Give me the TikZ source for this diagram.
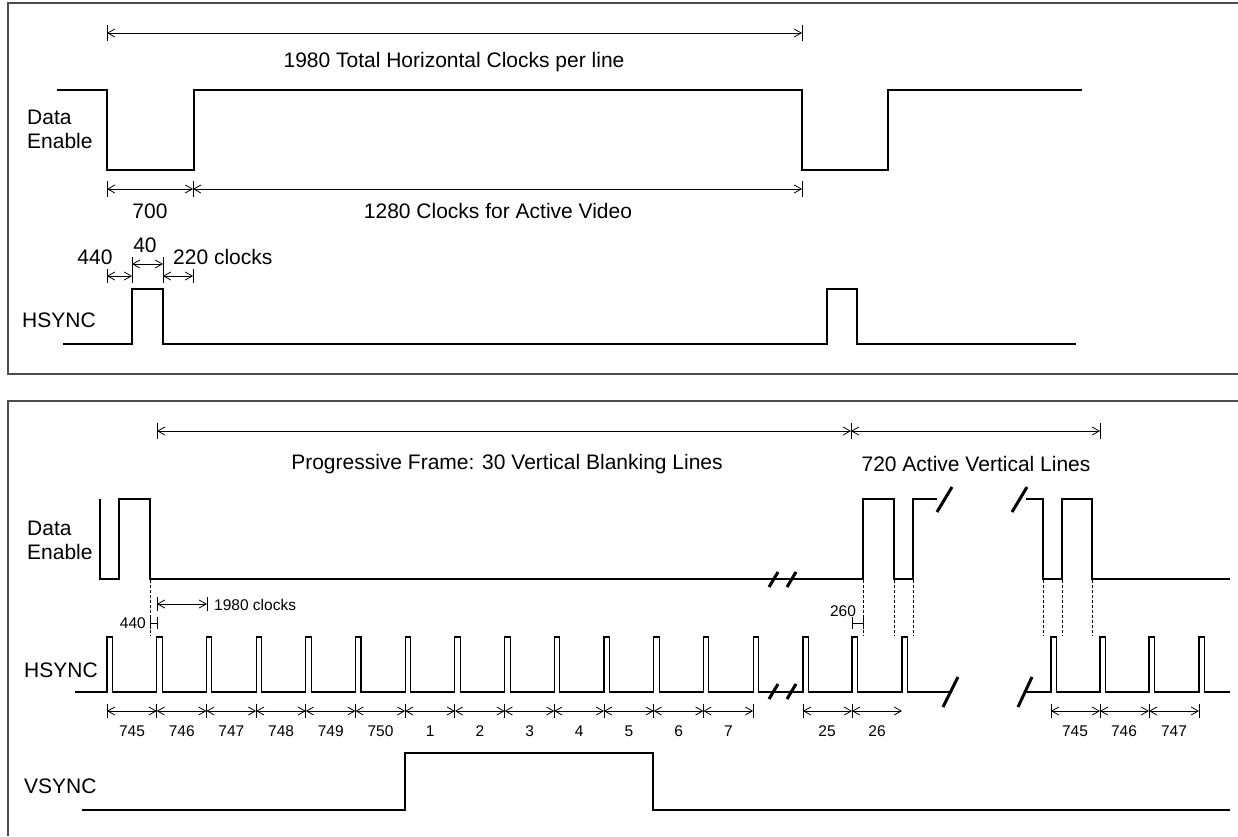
\documentclass[tikz,border=0pt]{standalone}
\usepackage{fontspec}
\setmainfont{Liberation Sans}
\usetikzlibrary{arrows.meta}
\begin{document}
\begin{tikzpicture}[x=1pt,y=-1pt,
  sigline/.style={line width=1.1pt, line join=miter},
  panel/.style={line width=1.4pt, draw=black!70},
  dimarr/.style={line width=0.8pt, {Straight Barb[length=7pt,width=8pt,line width=0.8pt]}-{Straight Barb[length=7pt,width=8pt,line width=0.8pt]}},
  tickbar/.style={line width=0.9pt},
  brkmark/.style={line width=3pt},
  dotv/.style={line width=0.8pt, dash pattern=on 3pt off 2pt},
  lab/.style={inner sep=0pt, font=\fontsize{21}{24}\selectfont},
  slab/.style={inner sep=0pt, font=\fontsize{15.5}{18}\selectfont},
]
\useasboundingbox (0,0) rectangle (1238,836);

% ---------- panels ----------
\draw[panel] (1238,3) -- (8,3) -- (8,374) -- (1238,374);
\draw[panel] (1238,401) -- (8,401) -- (8,836);

% ================= TOP PANEL =================
% overall dimension
\draw[dimarr] (107,33) -- (802,33);
\draw[tickbar] (107,25) -- (107,41) (802,25) -- (802,41);
\node[lab] (ttotal) at (454,62) {1980 Total Horizontal Clocks per line};

% Data Enable
\node[lab, anchor=west, align=left] (tde) at (27,129) {Data\\Enable};
\draw[sigline] (57,90) -- (107,90) -- (107,170) -- (194,170) -- (194,90) -- (802,90)
  -- (802,170) -- (888,170) -- (888,90) -- (1082,90);

% 700 / 1280 dimension
\draw[dimarr] (107,189) -- (193,189);
\draw[dimarr] (193,189) -- (802,189);
\draw[tickbar] (107,181) -- (107,197) (193,181) -- (193,197) (802,181) -- (802,197);
\node[lab] (t700) at (150,211) {700};
\node[lab] (t1280) at (498,211) {1280 Clocks for Active Video};

% 440 / 40 / 220
\draw[dimarr] (107,276) -- (132,276);
\draw[dimarr] (132,264) -- (163,264);
\draw[dimarr] (163,276) -- (193,276);
\draw[tickbar] (107,269) -- (107,283) (132,257) -- (132,283) (163,257) -- (163,283) (193,269) -- (193,283);
\node[lab] (t440) at (95,257) {440};
\node[lab] (t40) at (145,245) {40};
\node[lab, anchor=west] (t220) at (173,257) {220 clocks};

% HSYNC
\node[lab, anchor=west] (ths) at (22,320) {HSYNC};
\draw[sigline] (63,344) -- (132,344) -- (132,289) -- (163,289) -- (163,344) -- (827,344)
  -- (827,289) -- (857,289) -- (857,344) -- (1076,344);

% ================= BOTTOM PANEL =================
\draw[dimarr] (157,431) -- (851,431);
\draw[dimarr] (851,431) -- (1100,431);
\draw[tickbar] (157,423) -- (157,439) (851,423) -- (851,439) (1100,423) -- (1100,439);
\node[lab] (tprog) at (507,464) {Progressive Frame: 30 Vertical Blanking Lines};
\node[lab] (tact) at (976,464) {720 Active Vertical Lines};

% Data Enable
\node[lab, anchor=west, align=left] (bde) at (27,540) {Data\\Enable};
\draw[sigline] (100,499) -- (100,579) -- (119,579) -- (119,499) -- (150,499) -- (150,579)
  -- (863,579) -- (863,499) -- (894,499) -- (894,579) -- (913,579) -- (913,499) -- (937,499);
\draw[sigline] (1026,499) -- (1043,499) -- (1043,579) -- (1062,579) -- (1062,499)
  -- (1092,499) -- (1092,579) -- (1230,579);
\draw[brkmark] (769,587) -- (778,572) (787,587) -- (796,572);
\draw[brkmark] (937,512) -- (952,487) (1012,512) -- (1027,487);

% dotted guides
\foreach \gx in {150,863,894,913,1043,1062,1092}
  \draw[dotv] (\gx,580) -- (\gx,636);

% 1980 clocks
\draw[dimarr] (157,604) -- (207,604);
\draw[tickbar] (157,597) -- (157,611) (207,597) -- (207,611);
\node[slab, anchor=west] (t1980) at (214,605) {1980 clocks};

% 440 small
\draw[tickbar] (150,623) -- (157,623) (150,617) -- (150,629) (157,617) -- (157,629);
\node[slab, anchor=east] (b440) at (146,623) {440};

% 260 small
\draw[tickbar] (852,623) -- (863,623) (852,617) -- (852,629) (863,617) -- (863,629);
\node[slab] (b260) at (843,611) {260};

% HSYNC
\node[lab, anchor=west] (bhs) at (24,670) {HSYNC};
\draw[sigline] (75,692)
  \foreach \i in {0,...,13} { -- ({107+49.7*\i},692) -- ({107+49.7*\i},637) -- ({112.5+49.7*\i},637) -- ({112.5+49.7*\i},692) }
  \foreach \px in {803,852,902} { -- (\px,692) -- (\px,637) -- ({\px+5.5},637) -- ({\px+5.5},692) }
  -- (950,692);
\draw[sigline] (1025,692)
  \foreach \px in {1051,1100,1149,1199} { -- (\px,692) -- (\px,637) -- ({\px+5.5},637) -- ({\px+5.5},692) }
  -- (1230,692);
\draw[brkmark] (769,699) -- (778,684) (787,699) -- (796,684);
\draw[brkmark] (943,707) -- (958,677) (1018,707) -- (1032,677);

% line-number dimensions
\foreach \i in {0,...,12}
  \draw[dimarr] ({107+49.7*\i},711) -- ({107+49.7*(\i+1)},711);
\foreach \i in {0,...,13}
  \draw[tickbar] ({107+49.7*\i},704) -- ({107+49.7*\i},718);
\foreach \l [count=\i from 0] in {745,746,747,748,749,750,1,2,3,4,5,6,7}
  \node[slab] (n\i) at ({132+49.7*\i},731) {\l};

\draw[dimarr] (803,711) -- (852,711);
\draw[dimarr] (852,711) -- (902,711);
\draw[tickbar] (803,704) -- (803,718) (852,704) -- (852,718);
\node[slab] (n25) at (827,731) {25};
\node[slab] (n26) at (877,731) {26};

\draw[dimarr] (1051,711) -- (1100,711);
\draw[dimarr] (1100,711) -- (1149,711);
\draw[dimarr] (1149,711) -- (1199,711);
\draw[tickbar] (1051,704) -- (1051,718) (1100,704) -- (1100,718) (1149,704) -- (1149,718) (1199,704) -- (1199,718);
\node[slab] (r745) at (1075,731) {745};
\node[slab] (r746) at (1124,731) {746};
\node[slab] (r747) at (1174,731) {747};

% VSYNC
\node[lab, anchor=west] (bvs) at (24,786) {VSYNC};
\draw[sigline] (82,810) -- (405,810) -- (405,753) -- (653,753) -- (653,810) -- (1230,810);
\end{tikzpicture}
\end{document}
